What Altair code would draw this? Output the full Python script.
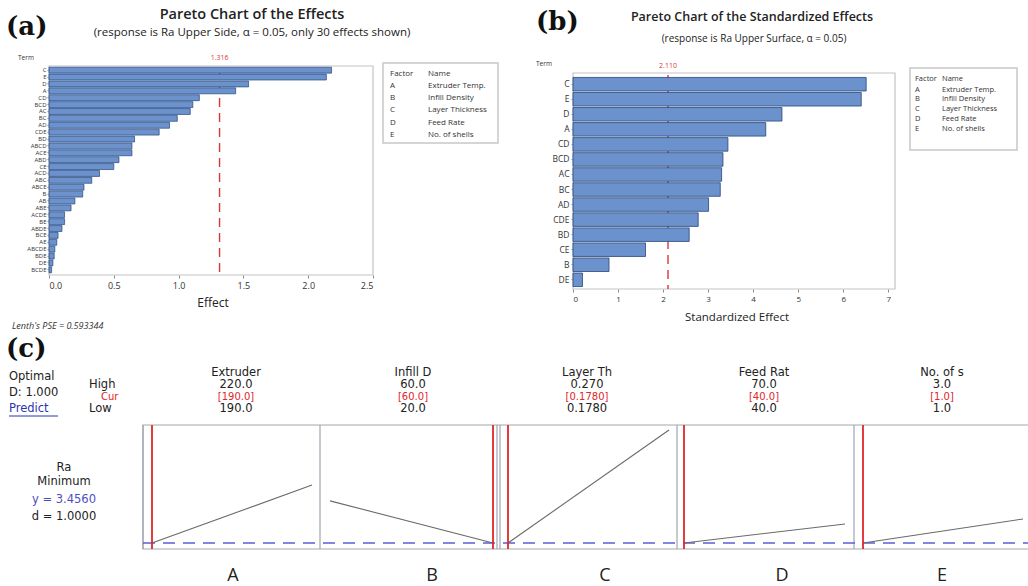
import altair as alt
import pandas as pd

# ---------------- data ----------------
terms_a = ["C", "E", "D", "A", "CD", "BCD", "AC", "BC", "AD", "CDE",
           "BD", "ABCD", "ACE", "ABD", "CE", "ACD", "ABC", "ABCE", "B", "AB",
           "ABE", "ACDE", "BE", "ABDE", "BCE", "AE", "ABCDE", "BDE", "DE", "BCDE"]
effects_a = [2.18, 2.14, 1.54, 1.44, 1.16, 1.11, 1.09, 0.99, 0.93, 0.85,
             0.66, 0.64, 0.64, 0.54, 0.50, 0.39, 0.33, 0.27, 0.26, 0.20,
             0.17, 0.12, 0.12, 0.10, 0.07, 0.06, 0.045, 0.04, 0.03, 0.02]
crit_a = 1.316
lenth_pse = "0.593344"

terms_b = ["C", "E", "D", "A", "CD", "BCD", "AC", "BC", "AD", "CDE", "BD", "CE", "B", "DE"]
effects_b = [6.51, 6.40, 4.64, 4.28, 3.44, 3.33, 3.30, 3.27, 3.01, 2.78, 2.58, 1.61, 0.80, 0.21]
crit_b = 2.110

factor_codes = ["A", "B", "C", "D", "E"]
factor_names = ["Extruder Temp.", "Infill Density", "Layer Thickness", "Feed Rate", "No. of shells"]

opt_short = ["Extruder", "Infill D", "Layer Th", "Feed Rat", "No. of s"]
opt_high = ["220.0", "60.0", "0.270", "70.0", "3.0"]
opt_cur = ["[190.0]", "[60.0]", "[0.1780]", "[40.0]", "[1.0]"]
opt_low = ["190.0", "20.0", "0.1780", "40.0", "1.0"]
level_low = [190.0, 20.0, 0.178, 40.0, 1.0]
level_high = [220.0, 60.0, 0.270, 70.0, 3.0]
level_cur = [190.0, 60.0, 0.178, 40.0, 1.0]
resp_at_low = [3.456, 4.55, 3.456, 3.456, 3.456]
resp_at_high = [4.96, 3.456, 6.39, 3.95, 4.08]
y_opt = 3.4560
d_opt = "1.0000"
composite_d = "1.000"

# ---------------- layout ----------------
W, H = 1028, 586
SANS = "Open Sans"
SERIF = "DejaVu Serif"
OPT = "DejaVu Sans"
BAR = "#6b92cd"
BAR_EDGE = "#27467a"
FRAME = "#c4c4c4"
RED = "#d9363a"

A_X = (49, 373)
A_Y = (66, 275)
A_BAND = (67, 273)
B_X = (573, 895)
B_Y = (73, 289)
B_BAND = (77, 287)
B_XMAX = 7.15
C_Y = (425, 549)
C_DOM = (3.3, 6.52)
C_PANEL_EDGES = [143, 320, 497, 500, 677, 854]
C_RIGHT = 1031
C_RANGES = [(152, 312), (330, 493), (508, 669), (684, 845), (863, 1023)]
C_COL_X = [236, 413, 587, 764, 942]
C_LETTER_X = [233, 432, 605, 782, 942]
C_ROWS = (373, 385, 397, 409)
C_FS = 11.5


def txt(rows, size, color="#222222", font=SANS, weight="normal", align="center",
        style="normal", baseline="middle"):
    df = pd.DataFrame(rows, columns=["t", "x", "y"])
    return alt.Chart(df).mark_text(
        fontSize=size, color=color, font=font, fontWeight=weight, align=align,
        baseline=baseline, fontStyle=style
    ).encode(
        x=alt.X("x:Q", scale=None, axis=None),
        y=alt.Y("y:Q", scale=None, axis=None),
        text=alt.Text("t:N"),
    )


def boxes(rows, stroke, width):
    df = pd.DataFrame(rows, columns=["x", "x2", "y", "y2"])
    return alt.Chart(df).mark_rect(fillOpacity=0, stroke=stroke, strokeWidth=width).encode(
        x=alt.X("x:Q", scale=None, axis=None), x2="x2:Q",
        y=alt.Y("y:Q", scale=None, axis=None), y2="y2:Q",
    )


layers = []

# ======== panel (a) ========
xa = alt.Scale(domain=[0, 2.5], range=list(A_X), nice=False, zero=True)
ya = alt.Scale(domain=terms_a, range=list(A_BAND), paddingInner=0.14, paddingOuter=0.03)
df_a = pd.DataFrame({"term": terms_a, "effect": effects_a})
crit_a_df = pd.DataFrame({"v": [crit_a]})

layers.append(boxes([(A_X[0], A_X[1], A_Y[0], A_Y[1])], FRAME, 1.2))
layers.append(alt.Chart(crit_a_df).mark_rule(color=RED, strokeDash=[9, 6], strokeWidth=1.4).encode(
    x=alt.X("v:Q", scale=xa, axis=None), y=alt.value(A_Y[0] + 2), y2=alt.value(A_Y[1])))
layers.append(alt.Chart(df_a).mark_bar(color=BAR, stroke=BAR_EDGE, strokeWidth=0.7).encode(
    x=alt.X("effect:Q", scale=xa, axis=alt.Axis(
        orient="bottom", offset=A_Y[1] - H, values=[0, 0.5, 1, 1.5, 2, 2.5], format=".1f",
        title=None, grid=False, domain=False, tickSize=3, tickColor="#888",
        labelFontSize=9, labelFont=SANS, labelColor="#333", labelPadding=3)),
    y=alt.Y("term:N", scale=ya, sort=None, axis=alt.Axis(
        orient="left", offset=-A_X[0], title=None, domain=False, tickSize=2, tickColor="#888",
        labelFontSize=6, labelFont=SANS, labelColor="#333", labelPadding=1, labelOverlap=False)),
))
layers.append(alt.Chart(crit_a_df).mark_text(color=RED, fontSize=7, font=SANS).encode(
    x=alt.X("v:Q", scale=xa, axis=None), y=alt.value(58), text=alt.Text("v:Q", format=".3f")))

layers.append(txt([("(a)", 6, 27)], 26, "#111", SERIF, "bold", "left"))
layers.append(txt([("Pareto Chart of the Effects", 252, 15)], 14.5, "#222", SANS, 600))
layers.append(txt([("(response is Ra Upper Side, α = 0.05, only 30 effects shown)", 252, 33)], 11.5, "#222"))
layers.append(txt([("Term", 18, 58)], 6.5, "#333", align="left"))
layers.append(txt([("Effect", 213, 303)], 12, "#222"))
layers.append(txt([("Lenth's PSE = " + lenth_pse, 12, 326)], 9, "#333", align="left", style="italic"))

# legend (a)
layers.append(boxes([(383, 498, 63, 143)], "#c8c8c8", 1.5))
leg_a = [("Factor", 390, 74), ("Name", 428, 74)]
for i, (c, n) in enumerate(zip(factor_codes, factor_names)):
    yy = 86 + i * 12.2
    leg_a += [(c, 390, yy), (n, 428, yy)]
layers.append(txt(leg_a, 8, "#333", align="left"))

# ======== panel (b) ========
xb = alt.Scale(domain=[0, B_XMAX], range=list(B_X), nice=False, zero=True)
yb = alt.Scale(domain=terms_b, range=list(B_BAND), paddingInner=0.1, paddingOuter=0.03)
df_b = pd.DataFrame({"term": terms_b, "effect": effects_b})
crit_b_df = pd.DataFrame({"v": [crit_b]})

layers.append(boxes([(B_X[0], B_X[1], B_Y[0], B_Y[1])], FRAME, 1.2))
layers.append(alt.Chart(crit_b_df).mark_rule(color=RED, strokeDash=[9, 6], strokeWidth=1.4).encode(
    x=alt.X("v:Q", scale=xb, axis=None), y=alt.value(B_Y[0] + 2), y2=alt.value(B_Y[1])))
layers.append(alt.Chart(df_b).mark_bar(color=BAR, stroke=BAR_EDGE, strokeWidth=0.8).encode(
    x=alt.X("effect:Q", scale=xb, axis=alt.Axis(
        orient="bottom", offset=B_Y[1] - H, values=list(range(8)), format="d",
        title=None, grid=False, domain=False, tickSize=3, tickColor="#888",
        labelFontSize=8, labelFont=SANS, labelColor="#333", labelPadding=3)),
    y=alt.Y("term:N", scale=yb, sort=None, axis=alt.Axis(
        orient="left", offset=-B_X[0], title=None, domain=False, tickSize=2, tickColor="#888",
        labelFontSize=8.5, labelFont=SANS, labelColor="#333", labelPadding=2)),
))
layers.append(alt.Chart(crit_b_df).mark_text(color=RED, fontSize=7, font=SANS).encode(
    x=alt.X("v:Q", scale=xb, axis=None), y=alt.value(66), text=alt.Text("v:Q", format=".3f")))

layers.append(txt([("(b)", 536, 22)], 26, "#111", SERIF, "bold", "left"))
layers.append(txt([("Pareto Chart of the Standardized Effects", 752, 17)], 12.5, "#222", SANS, 600))
layers.append(txt([("(response is Ra Upper Surface, α = 0.05)", 754, 39)], 10, "#222"))
layers.append(txt([("Term", 536, 64)], 6.5, "#333", align="left"))
layers.append(txt([("Standardized Effect", 737, 318)], 11.5, "#222"))

layers.append(boxes([(910, 1017, 68, 150)], "#c8c8c8", 1.5))
leg_b = [("Factor", 915, 79), ("Name", 942, 79)]
for i, (c, n) in enumerate(zip(factor_codes, factor_names)):
    yy = 89.5 + i * 9.8
    leg_b += [(c, 915, yy), (n, 942, yy)]
layers.append(txt(leg_b, 7.5, "#333", align="left"))

# ======== panel (c) ========
yc = alt.Scale(domain=list(C_DOM), range=[C_Y[1], C_Y[0]], nice=False, zero=False)
layers.append(boxes([(C_PANEL_EDGES[0], C_RIGHT, C_Y[0], C_Y[1])], "#a8a8a8", 1.2))
layers.append(alt.Chart(pd.DataFrame({"x": C_PANEL_EDGES})).mark_rule(color="#9ea6b4", strokeWidth=1.2).encode(
    x=alt.X("x:Q", scale=None, axis=None), y=alt.value(C_Y[0]), y2=alt.value(C_Y[1])))
layers.append(alt.Chart(pd.DataFrame({"v": [y_opt]})).mark_rule(
    color="#5b5fd6", strokeDash=[12, 8], strokeWidth=1.4).encode(
    y=alt.Y("v:Q", scale=yc, axis=None), x=alt.value(C_PANEL_EDGES[0]), x2=alt.value(W)))

for i in range(5):
    xs = alt.Scale(domain=[level_low[i], level_high[i]], range=list(C_RANGES[i]), nice=False, zero=False)
    df_line = pd.DataFrame({"level": [level_low[i], level_high[i]],
                            "resp": [resp_at_low[i], resp_at_high[i]]})
    layers.append(alt.Chart(df_line).mark_line(color="#6a6a6a", strokeWidth=1.1).encode(
        x=alt.X("level:Q", scale=xs, axis=None), y=alt.Y("resp:Q", scale=yc, axis=None)))
    layers.append(alt.Chart(pd.DataFrame({"cur": [level_cur[i]]})).mark_rule(
        color="#e0262a", strokeWidth=1.8).encode(
        x=alt.X("cur:Q", scale=xs, axis=None), y=alt.value(C_Y[0]), y2=alt.value(C_Y[1])))

layers.append(txt([("(c)", 6, 349)], 26, "#111", SERIF, "bold", "left"))
layers.append(txt([("Optimal", 9, 377), ("D: " + composite_d, 9, 393)], C_FS, "#222", OPT, align="left"))
layers.append(txt([("Predict", 9, 409)], C_FS, "#2b35b0", OPT, align="left"))
layers.append(alt.Chart(pd.DataFrame({"x": [9], "x2": [58], "y": [416]})).mark_rule(
    color="#2b35b0", strokeWidth=1).encode(
    x=alt.X("x:Q", scale=None, axis=None), x2="x2:Q", y=alt.Y("y:Q", scale=None, axis=None)))
layers.append(txt([("High", 89, C_ROWS[1]), ("Low", 89, C_ROWS[3])], C_FS, "#222", OPT, align="left"))
layers.append(txt([("Cur", 101, C_ROWS[2])], C_FS - 1.5, "#e0262a", OPT, align="left"))

hdr = []
for i in range(5):
    hdr += [(opt_short[i], C_COL_X[i], C_ROWS[0]), (opt_high[i], C_COL_X[i], C_ROWS[1]),
            (opt_low[i], C_COL_X[i], C_ROWS[3])]
layers.append(txt(hdr, C_FS, "#222", OPT))
layers.append(txt([(opt_cur[i], C_COL_X[i], C_ROWS[2]) for i in range(5)], C_FS - 1.5, "#e0262a", OPT))

layers.append(txt([("Ra", 64, 468), ("Minimum", 64, 482)], C_FS, "#222", OPT))
layers.append(txt([("y = " + f"{y_opt:.4f}", 64, 500)], C_FS, "#4a4fc4", OPT))
layers.append(txt([("d = " + d_opt, 64, 517)], C_FS, "#222", OPT))
layers.append(txt([(factor_codes[i], C_LETTER_X[i], 576) for i in range(5)], 18, "#222", SANS))

chart = alt.layer(*layers).resolve_scale(x="independent", y="independent").properties(
    width=W, height=H, padding=0, background="white",
    autosize=alt.AutoSizeParams(type="none"),
).configure_view(strokeWidth=0)

chart.save("out.html", embed_options={"renderer": "svg", "actions": False})
